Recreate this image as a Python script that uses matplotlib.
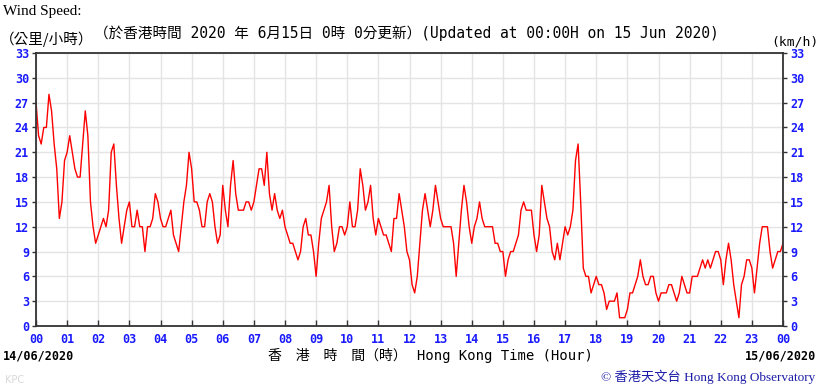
import numpy as np
import matplotlib
matplotlib.use("Agg")
import matplotlib.pyplot as plt

# wind speed (km/h) every 5 minutes, 14/06/2020 00:00 -> 15/06/2020 00:00
h00 = [27, 23, 22, 24, 24, 28, 26, 22, 19, 13, 15, 20]
h01 = [21, 23, 21, 19, 18, 18, 22, 26, 23, 15, 12, 10]
h02 = [11, 12, 13, 12, 14, 21, 22, 17, 13, 10, 12, 14]
h03 = [15, 12, 12, 14, 12, 12, 9, 12, 12, 13, 16, 15]
h04 = [13, 12, 12, 13, 14, 11, 10, 9, 12, 15, 17, 21]
h05 = [19, 15, 15, 14, 12, 12, 15, 16, 15, 12, 10, 11]
h06 = [17, 14, 12, 17, 20, 16, 14, 14, 14, 15, 15, 14]
h07 = [15, 17, 19, 19, 17, 21, 16, 14, 16, 14, 13, 14]
h08 = [12, 11, 10, 10, 9, 8, 9, 12, 13, 11, 11, 9]
h09 = [6, 10, 13, 14, 15, 17, 12, 9, 10, 12, 12, 11]
h10 = [12, 15, 12, 12, 14, 19, 17, 14, 15, 17, 13, 11]
h11 = [13, 12, 11, 11, 10, 9, 13, 13, 16, 14, 12, 9]
h12 = [8, 5, 4, 6, 10, 14, 16, 14, 12, 14, 17, 15]
h13 = [13, 12, 12, 12, 12, 10, 6, 10, 14, 17, 15, 12]
h14 = [10, 12, 13, 15, 13, 12, 12, 12, 12, 10, 10, 9]
h15 = [9, 6, 8, 9, 9, 10, 11, 14, 15, 14, 14, 14]
h16 = [11, 9, 11, 17, 15, 13, 12, 9, 8, 10, 8, 10]
h17 = [12, 11, 12, 14, 20, 22, 15, 7, 6, 6, 4, 5]
h18 = [6, 5, 5, 4, 2, 3, 3, 3, 4, 1, 1, 1]
h19 = [2, 4, 4, 5, 6, 8, 6, 5, 5, 6, 6, 4]
h20 = [3, 4, 4, 4, 5, 5, 4, 3, 4, 6, 5, 4]
h21 = [4, 6, 6, 6, 7, 8, 7, 8, 7, 8, 9, 9]
h22 = [8, 5, 8, 10, 8, 5, 3, 1, 5, 6, 8, 8]
h23 = [7, 4, 7, 10, 12, 12, 12, 9, 7, 8, 9, 9]
h24 = [10]

speed = (h00 + h01 + h02 + h03 + h04 + h05 + h06 + h07 + h08 + h09 + h10 + h11
         + h12 + h13 + h14 + h15 + h16 + h17 + h18 + h19 + h20 + h21 + h22 + h23 + h24)
minutes = np.arange(0, 24 * 60 + 1, 5)
hours = minutes / 60.0

hour_labels = ["%02d" % h for h in range(24)] + ["00"]
y_ticks = list(range(0, 34, 3))

blue = "#1a1aff"
mono = ["DejaVu Sans Mono", "Noto Sans CJK TC"]
cjk = ["Noto Sans CJK TC", "DejaVu Sans"]

fig = plt.figure(figsize=(8.19, 3.87), dpi=100)
ax = fig.add_axes([36 / 819, 61 / 387, 747 / 819, 273 / 387])

ax.plot(hours, speed, color="#ff0000", lw=1.0)

ax.set_xlim(0, 24)
ax.set_ylim(0, 33)
ax.set_xticks(range(25))
ax.set_xticklabels(hour_labels)
ax.set_yticks(y_ticks)
ax.set_yticklabels([str(v) for v in y_ticks])
ax.grid(True, color="#e4e4e4", lw=1.0)
ax.set_axisbelow(True)

for s in ax.spines.values():
    s.set_color("#333333")
    s.set_linewidth(1.3)

ax.tick_params(axis="x", direction="in", length=4, width=1, color="#333333",
               labelcolor=blue, labelsize=8.5, pad=5)
ax.tick_params(axis="y", direction="out", length=3, width=1, color="#333333",
               labelcolor=blue, labelsize=8.5, pad=2, left=True, right=True,
               labelleft=True, labelright=True)
for lab in ax.get_xticklabels() + ax.get_yticklabels():
    lab.set_fontfamily("DejaVu Sans Mono")
    lab.set_fontweight("bold")

# header texts
fig.text(3 / 819, 1 - 12 / 387, "Wind Speed:", family="Liberation Serif",
         fontsize=11, va="center", ha="left")
fig.text(0 / 819, 1 - 39 / 387, "（公里/小時）", family=cjk,
         fontsize=10.5, va="center", ha="left")
fig.text(94 / 819, 1 - 33 / 387,
         "（於香港時間 2020 年 6月15日 0時 0分更新）(Updated at 00:00H on 15 Jun 2020)",
         family=mono, fontsize=10.5, va="center", ha="left")
fig.text(818 / 819, 1 - 42 / 387, "(km/h)", family="DejaVu Sans Mono",
         fontsize=9.4, va="center", ha="right")

# footer texts
fig.text(3 / 819, 1 - 356 / 387, "14/06/2020", family="DejaVu Sans Mono",
         fontweight="bold", fontsize=8.5, va="center", ha="left")
fig.text(816 / 819, 1 - 356 / 387, "15/06/2020", family="DejaVu Sans Mono",
         fontweight="bold", fontsize=8.5, va="center", ha="right")
fig.text(268 / 819, 1 - 356 / 387, "香　港　時　間（時）", family=cjk,
         fontsize=10, va="center", ha="left")
fig.text(417 / 819, 1 - 356 / 387, "Hong Kong Time (Hour)", family="DejaVu Sans Mono",
         fontsize=10, va="center", ha="left")
fig.text(5 / 819, 1 - 380 / 387, "KPC", family="DejaVu Sans", fontsize=7,
         color="#d8d8d8", va="center", ha="left")
fig.text(815 / 819, 1 - 377 / 387, "© 香港天文台 Hong Kong Observatory",
         family=["Liberation Serif", "Noto Sans CJK TC"], fontsize=9.5,
         color="#1c1ca8", va="center", ha="right")

fig.savefig("out.png", dpi=100)
